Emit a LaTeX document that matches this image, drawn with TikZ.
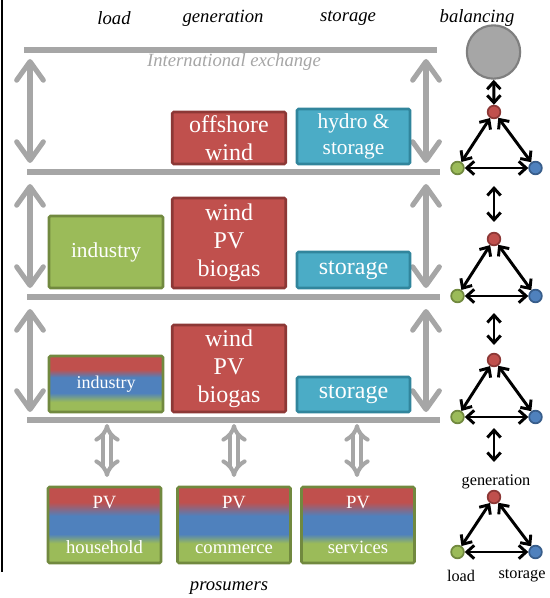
\documentclass[tikz,border=0pt]{standalone}
\usepackage{fontspec}
\setmainfont{Liberation Serif}
\usetikzlibrary{arrows.meta}
\definecolor{cred}{HTML}{C0504D}
\definecolor{cdred}{HTML}{8C3836}
\definecolor{cteal}{HTML}{4BACC6}
\definecolor{cdteal}{HTML}{31859C}
\definecolor{cgreen}{HTML}{9BBB59}
\definecolor{cdgreen}{HTML}{71893F}
\definecolor{cblue}{HTML}{4F81BD}
\definecolor{cdblue}{HTML}{385D8A}
\definecolor{cgray}{HTML}{A6A6A6}
\definecolor{cdgray}{HTML}{7F7F7F}
\pgfdeclareverticalshading{prosumershade}{100bp}{color(0bp)=(cgreen); color(38bp)=(cgreen); color(44bp)=(cblue); color(56bp)=(cblue); color(65bp)=(cred); color(100bp)=(cred)}
\pgfdeclareverticalshading{industryshade}{100bp}{color(0bp)=(cgreen); color(34bp)=(cgreen); color(42bp)=(cblue); color(56bp)=(cblue); color(63bp)=(cred); color(100bp)=(cred)}
\tikzset{
  bx/.style 2 args={minimum width=#1*0.75pt, minimum height=#2*0.75pt, inner sep=0pt, align=center, text=white, line width=1.9pt, rounded corners=1pt},
  redbox/.style={fill=cred, draw=cdred},
  tealbox/.style={fill=cteal, draw=cdteal},
  greenbox/.style={fill=cgreen, draw=cdgreen},
  gradbox/.style={shading=#1, draw=cdgreen},
  bar/.style={draw=cgray, line width=5.2pt},
  garrow/.style={draw=cgray, line width=3.8pt, {Straight Barb[length=14pt,width=20pt,round]}-{Straight Barb[length=14pt,width=20pt,round]}},
  dgarrow/.style={draw=cgray, line width=3pt, double=white, double distance=3pt, {Implies[scale width=1.6, scale length=1.3]}-{Implies[scale width=1.6, scale length=1.3]}},
  barrow/.style={draw=black, line width=2.2pt, {Straight Barb[length=5.5pt,width=10pt]}-{Straight Barb[length=5.5pt,width=10pt]}},
  dot/.style={circle, minimum size=9.5pt, inner sep=0pt, line width=1.3pt},
  hdr/.style={font=\fontsize{14}{16}\selectfont\itshape},
  big/.style={font=\fontsize{18}{21}\selectfont},
  mid/.style={font=\fontsize{16}{19}\selectfont},
  sml/.style={font=\fontsize{13.5}{16}\selectfont},
  tlab/.style={font=\fontsize{12.2}{14}\selectfont}
}
\begin{document}
\begin{tikzpicture}[x=0.75pt,y=-0.75pt]
\useasboundingbox (0,0) rectangle (549,598);
% left rule
\coordinate (lt) at (2,0); \coordinate (lb) at (2,572);
\draw[line width=1.1pt] (lt) -- (lb);
% headers
\node[hdr] (hload) at (114,18) {load};
\node[hdr] (hgen) at (223,18) {generation};
\node[hdr] (hsto) at (348,18) {storage};
\node[hdr] (hbal) at (477,18) {balancing};
% bars
\coordinate (b1l) at (24,50); \coordinate (b1r) at (437,50);
\coordinate (b2l) at (27,172); \coordinate (b2r) at (440,172);
\coordinate (b3l) at (27,297); \coordinate (b3r) at (440,297);
\coordinate (b4l) at (27,420); \coordinate (b4r) at (440,420);
\draw[bar] (b1l) -- (b1r);
\draw[bar] (b2l) -- (b2r);
\draw[bar] (b3l) -- (b3r);
\draw[bar] (b4l) -- (b4r);
\node[hdr, text=cgray] (intl) at (234,62) {International exchange};
% side arrows
\coordinate (la1) at (30,59); \coordinate (lb1) at (30,163);
\coordinate (la2) at (30,184); \coordinate (lb2) at (30,288);
\coordinate (la3) at (30,309); \coordinate (lb3) at (30,412);
\coordinate (ra1) at (426,59); \coordinate (rb1) at (426,163);
\coordinate (ra2) at (426,184); \coordinate (rb2) at (426,288);
\coordinate (ra3) at (426,309); \coordinate (rb3) at (426,412);
\draw[garrow] (la1) -- (lb1);
\draw[garrow] (la2) -- (lb2);
\draw[garrow] (la3) -- (lb3);
\draw[garrow] (ra1) -- (rb1);
\draw[garrow] (ra2) -- (rb2);
\draw[garrow] (ra3) -- (rb3);
% boxes
\node[redbox, bx={113.5}{52}, big] (off) at (229,138) {offshore\\wind};
\node[tealbox, bx={113}{55}, mid] (hyd) at (353.5,136.5) {hydro \&\\storage};
\node[greenbox, bx={114}{72}, mid] (ind1) at (106,252) {industry};
\node[redbox, bx={113.5}{90}, big] (wpb1) at (229,243) {wind\\PV\\biogas};
\node[tealbox, bx={113}{36}, big] (sto1) at (353.5,270) {storage};
\node[gradbox=industryshade, bx={114}{56}, sml] (ind2) at (106,384) {industry};
\node[redbox, bx={113.5}{87}, big] (wpb2) at (229,368.5) {wind\\PV\\biogas};
\node[tealbox, bx={113}{35}, big] (sto2) at (353.5,394.5) {storage};
% prosumers
\node[gradbox=prosumershade, bx={113}{76}, font=\fontsize{14}{16.8}\selectfont] (hh) at (104.5,525) {PV\\[17pt]household};
\node[gradbox=prosumershade, bx={113}{76}, font=\fontsize{14}{16.8}\selectfont] (com) at (234,525) {PV\\[17pt]commerce};
\node[gradbox=prosumershade, bx={113}{76}, font=\fontsize{14}{16.8}\selectfont] (ser) at (358,525) {PV\\[17pt]services};
\coordinate (pa1) at (107,424); \coordinate (pb1) at (107,477);
\coordinate (pa2) at (234,424); \coordinate (pb2) at (234,477);
\coordinate (pa3) at (357,424); \coordinate (pb3) at (357,477);
\draw[dgarrow] (pa1) -- (pb1);
\draw[dgarrow] (pa2) -- (pb2);
\draw[dgarrow] (pa3) -- (pb3);
\node[hdr] (pros) at (229,588) {prosumers};
% balancing column
\node[circle, fill=cgray, draw=cdgray, line width=1.6pt, minimum size=40pt, inner sep=0pt] (bal) at (493.5,52) {};
\foreach \i/\y/\yy in {1/112/168, 2/239/296, 3/360/417, 4/497/552} {
  \node[dot, fill=cred, draw=cdred] (r\i) at (494,\y) {};
  \node[dot, fill=cgreen, draw=cdgreen] (g\i) at (457.5,\yy) {};
  \node[dot, fill=cblue, draw=cdblue] (u\i) at (535.5,\yy) {};
  \draw[barrow] (r\i) -- (g\i);
  \draw[barrow] (r\i) -- (u\i);
  \draw[barrow] (g\i) -- (u\i);
}
\draw[barrow] (bal) -- (r1);
\coordinate (s1a) at (494,186); \coordinate (s1b) at (494,222);
\coordinate (s2a) at (494,313); \coordinate (s2b) at (494,345);
\coordinate (s3a) at (494,428); \coordinate (s3b) at (494,462);
\draw[barrow] (s1a) -- (s1b);
\draw[barrow] (s2a) -- (s2b);
\draw[barrow] (s3a) -- (s3b);
\node[tlab] (lgen) at (496,482) {generation};
\node[tlab] (lload) at (461,576) {load};
\node[tlab] (lsto) at (522,576) {storage};
\end{tikzpicture}
\end{document}
